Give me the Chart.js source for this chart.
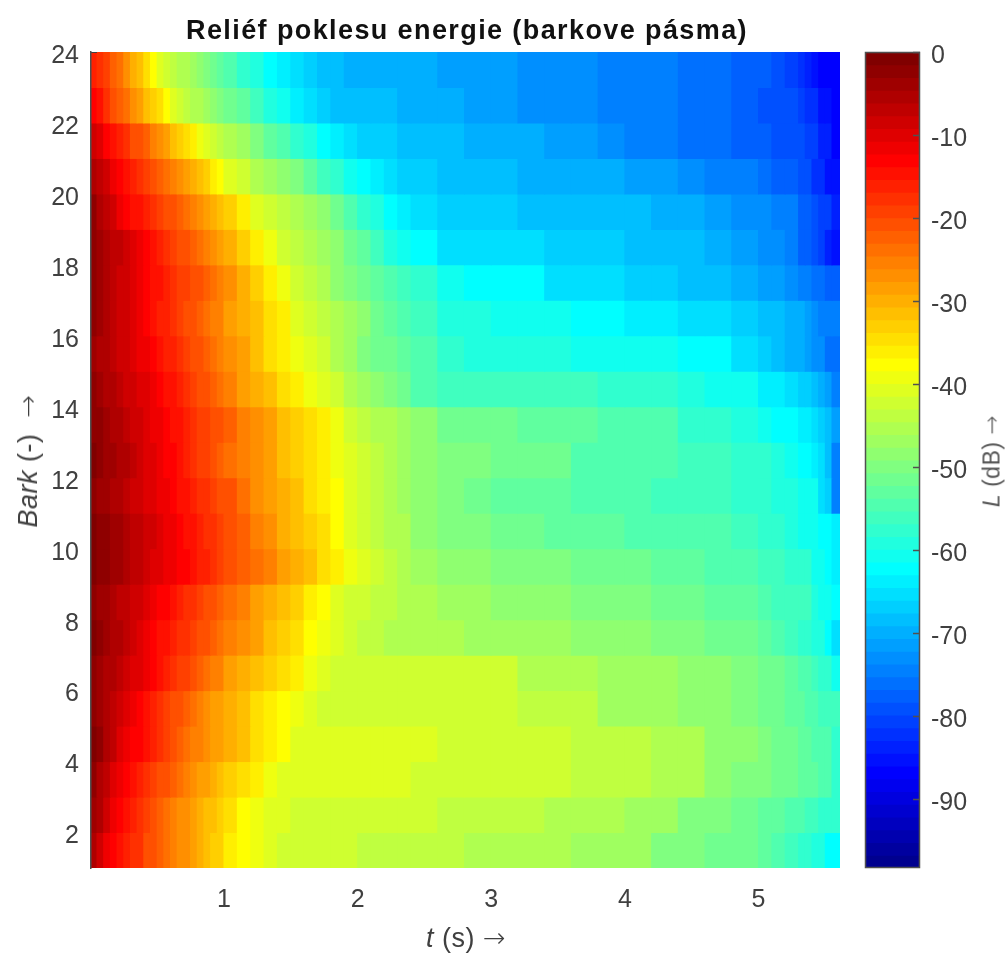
<!DOCTYPE html>
<html>
<head>
<meta charset="utf-8">
<title>Reliéf poklesu energie</title>
<script src="https://cdn.jsdelivr.net/npm/chart.js@4"></script>
<style>
	html, body { margin: 0; padding: 0; background: #fff; }
	body { position: relative; width: 1008px; height: 954px; overflow: hidden; font-family: "Liberation Sans", Arial, sans-serif; filter: blur(0.45px); }
	canvas { position: absolute; top: 0; }
	#relief { left: 0; }
	#colorbar { left: 850px; }
	.label { position: absolute; color: #404040; white-space: nowrap; transform: translate(-50%, -50%); letter-spacing: 0.5px; }
	.label.vertical { transform: translate(-50%, -50%) rotate(-90deg); }
	.arrow { font-family: "DejaVu Sans", sans-serif; font-weight: 200; }
	#title { left: 467px; top: 30px; font-size: 27px; font-weight: bold; color: #111; letter-spacing: 1.4px; }
	#xlabel { left: 466px; top: 938px; font-size: 27px; }
	#ylabel { left: 28px; top: 461px; font-size: 27px; }
	#zlabel { left: 992px; top: 461px; font-size: 23px; color: #555; }
</style>
</head>
<body>
<canvas id="relief" width="850" height="954"></canvas>
<canvas id="colorbar" width="158" height="954"></canvas>
<div id="title" class="label">Reliéf poklesu energie (barkove pásma)</div>
<div id="xlabel" class="label"><i>t</i> (s) <span class="arrow">→</span></div>
<div id="ylabel" class="label vertical"><i>Bark</i> (-) &nbsp;<span class="arrow">→</span></div>
<div id="zlabel" class="label vertical"><i>L</i> (dB) <span class="arrow">→</span></div>
<script>

//
// data
//

const timeTicks = [1, 2, 3, 4, 5];
const barkTicks = [2, 4, 6, 8, 10, 12, 14, 16, 18, 20, 22, 24];
const levelTicks = [0, -10, -20, -30, -40, -50, -60, -70, -80, -90];

const timeEdges = [0, 0.05, 0.1, 0.15, 0.2, 0.25, 0.3, 0.35, 0.4, 0.45, 0.5, 0.55, 0.6, 0.65, 0.7, 0.75, 0.8, 0.85, 0.9, 0.95, 1,
	1.1, 1.2, 1.3, 1.4, 1.5, 1.6, 1.7, 1.8, 1.9, 2, 2.1, 2.2, 2.3, 2.4,
	2.6, 2.8, 3, 3.2, 3.4, 3.6, 3.8, 4, 4.2, 4.4, 4.6, 4.8, 5,
	5.1, 5.2, 5.3, 5.35, 5.4, 5.45, 5.5, 5.55, 5.61];

const barkCenters = [1.5, 2.5, 3.5, 4.5, 5.5, 6.5, 7.5, 8.5, 9.5, 10.5, 11.5, 12.5, 13.5, 14.5, 15.5, 16.5, 17.5, 18.5, 19.5, 20.5, 21.5, 22.5, 23.5];

// level in dB of each band, one value per time column
const band01 = [-6,-9,-11.5,-13,-14.5,-15.5,-17,-18,-20,-21,-22.5,-23.5,-25,-26.5,-27.5,-29,-30,-31,-32.5,-33.5,-35.5,-37.5,-39.5,-40.5,-42,-43,-43,-43,-43,-43,-44,-44,-44,-44,-44,-44,-46,-46,-46,-46,-47.5,-47.5,-47.5,-49.5,-49.5,-51,-51,-52.5,-54,-55.5,-57,-57,-59,-59,-62,-62];
const band02 = [-4,-6,-8.5,-11,-12.5,-14,-16,-17,-19,-20.5,-22,-23.5,-25,-26.5,-27.5,-29,-30,-31,-32,-33,-35,-37,-39.5,-40,-40.5,-41.5,-41.5,-41.5,-42,-42.5,-42.5,-42.5,-42.5,-42.5,-42.5,-44,-44,-44,-44,-46,-46,-46,-47.5,-47.5,-49.5,-49.5,-51,-52.5,-52.5,-54,-54,-55.5,-55.5,-58,-58,-58];
const band03 = [-3,-5,-7,-9.5,-11,-13,-14.5,-16,-17,-19,-20,-21.5,-23,-24.5,-25.5,-27,-28,-29,-30,-31,-33,-35,-36.5,-39.5,-40,-40,-40,-40,-41,-41,-41,-41,-41,-41,-42,-42,-42,-42,-42,-42,-44,-44,-44,-46,-46,-48,-49.5,-49.5,-51,-51,-52.5,-52.5,-52.5,-54,-54,-57];
const band04 = [-1.5,-3,-5,-7.5,-9.5,-11,-12.5,-13.5,-14.5,-15.5,-17.5,-19,-20.5,-22,-23.5,-25,-26,-27,-28,-29,-30.5,-32,-34,-36,-37.5,-40,-40,-40,-40.5,-41,-41,-41,-41,-41,-41,-42,-42,-42,-42,-42,-44,-44,-44,-46,-46,-48,-48,-49.5,-51,-51,-52.5,-52.5,-54,-54,-54,-57];
const band05 = [-3,-4.5,-6,-7,-8.5,-10,-11,-12.5,-14,-15.5,-17,-18.5,-20,-21.5,-23,-24.5,-26,-27,-28,-29,-30.5,-32,-34,-36,-37,-39.5,-40,-41.5,-41.5,-41.5,-41.5,-41.5,-42,-42,-42,-42,-42,-42,-44,-44,-44,-46.5,-46.5,-46.5,-48,-48,-49.5,-51,-51,-52.5,-52.5,-54,-54,-56.5,-56.5,-56.5];
const band06 = [-3,-4,-5,-6,-7,-8,-9.5,-10.5,-12,-13,-14.5,-15.5,-17,-18.5,-19.5,-21,-22,-23.5,-25,-26,-28,-29.5,-31.5,-33.5,-35,-36.5,-39,-41,-42,-43,-43,-43,-43,-43,-43,-43,-43,-43,-45,-45,-45,-47,-47,-47,-48.5,-48.5,-50,-51.5,-51.5,-53,-54.5,-54.5,-56,-58,-58,-61];
const band07 = [-1.5,-2.5,-3.5,-5,-6,-7,-8.5,-9.5,-11,-12.5,-14,-15,-16,-17,-18,-19,-20.5,-21.5,-22.5,-24,-25.5,-27.5,-29,-31,-33,-35,-37,-39.5,-41,-43,-44,-44.5,-45,-45.5,-45.5,-45.5,-47,-47,-47,-47,-48.5,-48.5,-48.5,-50,-50,-51.5,-51.5,-53,-54.5,-56,-57.5,-57.5,-59.5,-59.5,-62,-65];
const band08 = [-2.5,-3.5,-4.5,-5.5,-6.5,-7.5,-8.5,-9,-10,-11,-12.5,-13.5,-15,-16,-17,-18,-19,-20,-21,-22.5,-24,-26,-28,-30,-31.5,-33.5,-35.5,-37,-40,-42,-43,-44,-44.5,-45,-46,-47,-47,-48.5,-48.5,-48.5,-50,-50,-50,-51.5,-51.5,-53,-53,-54.5,-56,-56,-56,-56,-58.5,-61,-61,-62.5];
const band09 = [-1.5,-2,-3,-3.5,-4.5,-5.5,-6.5,-7.5,-8.5,-9.5,-10.5,-11,-12,-12.5,-13.5,-14.5,-15.5,-16.5,-17.5,-18.5,-20,-22,-24,-26,-28,-30,-32,-34,-36,-39,-41,-43,-44.5,-45.5,-47,-48.5,-48.5,-50,-50,-50,-51.5,-51.5,-51.5,-53,-53,-54.5,-54.5,-56,-56,-58,-58,-58,-61,-61,-62,-64];
const band10 = [-1.5,-2,-3,-4,-4.5,-5.5,-6.5,-7,-8,-9,-10,-11,-12,-13,-14,-15,-16,-17,-18,-19,-21,-23,-25.5,-27.5,-29.5,-31.5,-33.5,-35,-37,-40,-41.5,-43.5,-45,-46,-48,-50,-50,-51.5,-51.5,-53,-53,-53,-54.5,-54.5,-54.5,-54.5,-56,-58,-58,-59.5,-61,-61,-61,-62,-62,-64];
const band11 = [-3,-4,-4.5,-5.5,-6,-7,-8,-9,-9.5,-10.5,-11.5,-12,-13,-14,-15,-16,-17,-18,-19,-20,-21.5,-24,-26.5,-28.5,-30,-32,-34,-35.5,-37.5,-40.5,-42.5,-44,-45,-46.5,-48.5,-50,-51,-52.5,-52.5,-52.5,-54,-54,-54,-56,-56,-56,-58,-58,-59.5,-59.5,-61,-61,-61,-65,-67,-74];
const band12 = [-1.5,-2.5,-3.5,-4.5,-5,-6,-7,-8,-9.5,-10,-11.5,-12.5,-13.5,-15,-16,-17,-18.5,-19.5,-20.5,-22,-23.5,-25,-27,-29,-31,-32.5,-34.5,-36,-39,-41,-43,-44.5,-45.5,-46.5,-48,-50,-50,-52,-52,-52,-54,-54,-54,-54,-56,-56,-58,-58,-59.5,-61,-62,-62,-64.5,-66,-69,-74];
const band13 = [-2,-3,-4,-5,-6,-7,-8,-9,-10,-11,-12,-13,-14,-15,-16,-17.5,-18.5,-19.5,-20.5,-21.5,-23,-25,-27,-29,-31,-33,-35,-36.5,-39.5,-42,-44,-45,-46,-47,-49,-51,-52,-52,-53.5,-53.5,-53.5,-55,-55,-55,-57,-57,-59,-60.5,-62,-62,-64.5,-64.5,-66,-67.5,-69,-72];
const band14 = [-3,-4,-5,-6,-7,-8,-8.5,-9.5,-10.5,-11.5,-12.5,-14,-15,-16.5,-17.5,-19,-20,-21,-22.5,-23.5,-25.5,-28,-30,-32,-34,-36,-39,-41,-43,-45,-47,-48.5,-50.5,-52,-54,-55.5,-55.5,-55.5,-56.5,-56.5,-56.5,-58,-58,-58,-59.5,-61,-61,-64.5,-64.5,-66,-67.5,-67.5,-69,-70.5,-72,-74];
const band15 = [-4,-5,-6,-7,-8,-9,-10,-11,-12,-13,-14,-15.5,-16.5,-18,-19,-20,-21,-22.5,-23.5,-25,-27,-29,-31.5,-34,-36,-39,-41,-42.5,-45,-47.5,-50,-51,-52,-53,-55,-57,-58.5,-58.5,-58.5,-58.5,-60,-60,-61,-61,-62,-62,-65,-66.5,-68,-69.5,-69.5,-71,-73,-73,-76,-76];
const band16 = [-3,-4,-5.5,-7,-8,-9,-10.5,-11.5,-13,-14,-15.5,-16.5,-17.5,-19,-20,-21,-22.5,-23.5,-25,-26,-28,-30,-32,-34.5,-36.5,-40,-42,-44,-45.5,-47,-49,-51,-52.5,-54,-56.5,-59,-59,-60,-60,-60,-62,-62,-64.5,-64.5,-66,-66,-67.5,-69,-69,-70.5,-70.5,-72,-73.5,-75,-75,-75];
const band17 = [-3,-4,-5.5,-7,-8,-9,-10.5,-11.5,-13,-14,-15,-16,-17,-18.5,-19.5,-20.5,-21.5,-23,-24,-25.5,-27.5,-30.5,-33,-36,-39.5,-42,-44.5,-46,-48,-50,-51.5,-53,-54.5,-56,-58,-61,-62,-62,-62,-65,-65,-65,-66.5,-66.5,-68,-68,-69.5,-71,-71,-72.5,-74,-74,-75.5,-75.5,-77,-77];
const band18 = [-2,-3.5,-5,-6.5,-7.5,-9,-10.5,-12,-13.5,-15,-16,-17,-18.5,-20,-21,-22.5,-23.5,-25,-26.5,-28,-30,-33,-36,-39.5,-41.5,-43.5,-45,-47,-49,-51,-53.5,-56,-58.5,-60.5,-62.5,-65,-66,-66,-66,-67.5,-67.5,-67.5,-69,-69,-69,-70.5,-72,-73.5,-73.5,-75,-77,-77,-79,-81,-84,-86];
const band19 = [-3,-5,-7,-9,-11,-13,-14,-15,-16.5,-18,-19,-20,-21.5,-23,-24,-25,-26.5,-28,-29.5,-31,-33,-36,-40,-42.5,-44.5,-46,-47.5,-49,-51,-54,-57,-59.5,-61.5,-64,-65,-66.5,-67,-67.5,-68,-68,-68.5,-69,-69,-70.5,-70.5,-72,-73.5,-73.5,-75,-75,-77,-77,-79,-80,-81,-83];
const band20 = [-5,-7,-9,-11,-12.5,-14.5,-16,-17.5,-19,-20.5,-22,-23.5,-25,-27,-28.5,-30.5,-32,-33.5,-35.5,-37,-40,-43,-45,-47,-49,-50.5,-53,-55.5,-58,-61,-62.5,-64.5,-65.5,-66.5,-67.5,-68,-68.5,-69,-69.5,-69.5,-70,-70.5,-72,-72,-73.5,-75,-75,-76.5,-78,-78,-79,-79,-82,-82,-86,-86];
const band21 = [-9,-10.5,-12.5,-14.5,-16,-18,-20,-21.5,-23,-25.5,-27.5,-29,-31,-32.5,-34,-36,-39,-41,-42.5,-44,-45.5,-47.5,-50,-52.5,-55,-57,-59.5,-62,-64.5,-66,-66.5,-67.5,-67.5,-68,-68.5,-69,-69.5,-70,-70.5,-71,-72,-72.5,-74,-74,-75.5,-75.5,-77,-77,-78.5,-79,-79,-81,-81,-84,-84,-87];
const band22 = [-13,-15,-17.5,-20,-22,-24.5,-26.5,-29,-31,-33,-35,-37,-40,-42,-44,-45,-46,-47,-48,-49.5,-51,-53,-56,-58.5,-60.5,-64,-65.5,-67,-68,-68.5,-69,-69,-69,-69.5,-70,-70.5,-71,-72,-72.5,-73,-73.5,-74,-74.5,-75,-76,-76,-77.5,-78.5,-78.5,-79.5,-80,-82,-82,-85,-86,-87];
const band23 = [-15.5,-17,-19.5,-22,-24,-26.5,-29.5,-32,-35,-37.5,-40.5,-42,-44,-45,-46,-47.5,-49,-50,-51.5,-52.5,-54.5,-57,-59,-62,-64.5,-66,-67,-68,-69,-69.5,-69.5,-70,-70,-70,-70.5,-71,-71.5,-72,-72.5,-73,-73.5,-74,-74.5,-75,-76,-76.5,-77.5,-78,-79,-80,-81.5,-83,-85,-87,-87,-87];

const bands = [band01, band02, band03, band04, band05, band06, band07, band08, band09, band10, band11, band12,
	band13, band14, band15, band16, band17, band18, band19, band20, band21, band22, band23];

const levelMin = -98.3;
const levelMax = 0;
const numColors = 64;

//
// colormap methods
//

function getRamp(k) {
	if (k < 1 || k > 47) {
		return 0;
	}
	return k <= 16 ? k / 16 : k <= 31 ? 1 : (48 - k) / 16;
}

function getJetColor(i) {
	let r = Math.round(getRamp(i - 24) * 255);
	let g = Math.round(getRamp(i - 8) * 255);
	let b = Math.round(getRamp(i + 8) * 255);
	return 'rgb(' + r + ',' + g + ',' + b + ')';
}

function getLevelColor(level) {
	let i = Math.floor((level - levelMin) / (levelMax - levelMin) * numColors) + 1;
	return getJetColor(Math.max(1, Math.min(numColors, i)));
}

//
// building the marks
//

let cells = [];
let cellColors = [];
for (let b = 0; b < bands.length; b++) {
	for (let c = 0; c < bands[b].length; c++) {
		cells.push({ x: [timeEdges[c], timeEdges[c + 1]], y: barkCenters[b] });
		cellColors.push(getLevelColor(bands[b][c]));
	}
}

// the colorbar shows the steps of the colormap
//
let steps = [];
let stepColors = [];
for (let i = 1; i <= numColors; i++) {
	steps.push({ x: [0, 1], y: levelMin + (i - 0.5) * (levelMax - levelMin) / numColors });
	stepColors.push(getJetColor(i));
}

//
// rendering
//

const tickFont = { family: '"Liberation Sans", Arial, sans-serif', size: 25 };
const tickColor = '#404040';

function setTicks(list) {
	return function(scale) {
		scale.ticks = list.map((value) => ({ value: value }));
	};
}

const axisFrame = {
	id: 'axisFrame',
	afterDatasetsDraw: function(chart) {
		const ctx = chart.ctx;
		const area = chart.chartArea;
		ctx.save();
		ctx.lineWidth = 1;
		ctx.strokeStyle = '#404040';
		ctx.beginPath();
		ctx.moveTo(area.left, area.top + 0.5);
		ctx.lineTo(area.left + 6, area.top + 0.5);
		ctx.stroke();
		ctx.restore();
	}
};

const colorbarFrame = {
	id: 'colorbarFrame',
	afterDatasetsDraw: function(chart) {
		const ctx = chart.ctx;
		const area = chart.chartArea;
		const scale = chart.scales.y;
		ctx.save();
		ctx.lineWidth = 1.5;
		ctx.strokeStyle = '#505050';
		ctx.strokeRect(area.left + 0.5, area.top + 0.5, area.width - 1, area.height - 1);
		ctx.beginPath();
		levelTicks.forEach((value) => {
			let y = Math.round(scale.getPixelForValue(value)) + 0.5;
			ctx.moveTo(area.right - 7, y);
			ctx.lineTo(area.right, y);
		});
		ctx.stroke();
		ctx.restore();
	}
};

new Chart(document.getElementById('relief').getContext('2d'), {
	type: 'bar',
	data: {
		datasets: [{
			data: cells,
			backgroundColor: cellColors,
			borderWidth: 0,
			inflateAmount: 0.5,
			barPercentage: 1,
			categoryPercentage: 1
		}]
	},
	options: {
		indexAxis: 'y',
		responsive: false,
		animation: false,
		layout: {
			padding: { top: 52, right: 10 }
		},
		plugins: {
			legend: { display: false },
			tooltip: { enabled: false }
		},
		scales: {
			x: {
				type: 'linear',
				min: 0.005,
				max: 5.61,
				afterBuildTicks: setTicks(timeTicks),
				afterFit: (scale) => { scale.height = 86; },
				grid: { display: false, drawTicks: false },
				border: { display: false },
				ticks: { color: tickColor, font: tickFont, padding: 17, maxRotation: 0, autoSkip: false, callback: (value) => String(value) }
			},
			y: {
				type: 'linear',
				min: 1,
				max: 24,
				offset: false,
				afterBuildTicks: setTicks(barkTicks),
				afterFit: (scale) => { scale.width = 91; },
				grid: { display: false, drawTicks: false, offset: false },
				border: { display: true, color: '#505050', width: 1.5, z: 1 },
				ticks: { color: tickColor, font: tickFont, padding: 12, labelOffset: 4, autoSkip: false, callback: (value) => String(value) }
			}
		}
	},
	plugins: [axisFrame]
});

new Chart(document.getElementById('colorbar').getContext('2d'), {
	type: 'bar',
	data: {
		datasets: [{
			data: steps,
			backgroundColor: stepColors,
			borderWidth: 0,
			inflateAmount: 0.5,
			barPercentage: 1,
			categoryPercentage: 1
		}]
	},
	options: {
		indexAxis: 'y',
		responsive: false,
		animation: false,
		layout: {
			padding: { left: 15, top: 52, bottom: 86 }
		},
		plugins: {
			legend: { display: false },
			tooltip: { enabled: false }
		},
		scales: {
			x: {
				type: 'linear',
				min: 0,
				max: 1,
				display: false
			},
			y: {
				type: 'linear',
				position: 'right',
				min: levelMin,
				max: levelMax,
				offset: false,
				afterBuildTicks: setTicks(levelTicks),
				afterFit: (scale) => { scale.width = 88; },
				grid: { display: false, drawTicks: false, offset: false },
				border: { display: false },
				ticks: { color: tickColor, font: tickFont, padding: 11, labelOffset: 4, autoSkip: false, callback: (value) => String(value) }
			}
		}
	},
	plugins: [colorbarFrame]
});
</script>
</body>
</html>
